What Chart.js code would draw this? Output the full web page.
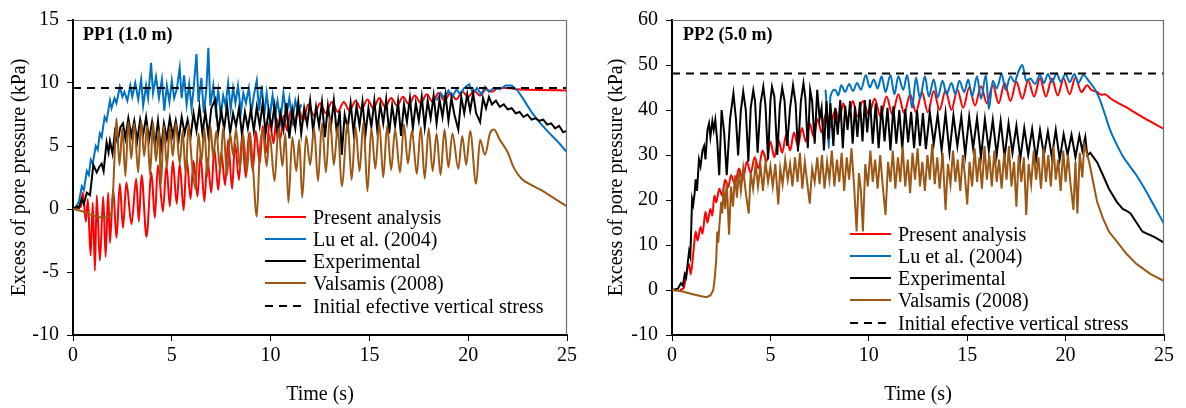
<!DOCTYPE html>
<html>
<head>
<meta charset="utf-8">
<script src="https://cdn.jsdelivr.net/npm/chart.js@4.4.1/dist/chart.umd.min.js"></script>
<style>
  body { margin: 0; background: #fff; }
  #wrap { position: relative; width: 1186px; height: 408px; font-family: 'Liberation Serif', 'Times New Roman', serif; color: #000; }
  canvas { position: absolute; top: 0; }
  .tag { position: absolute; font-weight: bold; font-size: 18px; line-height: 20px; white-space: nowrap; }
  .key { position: absolute; font-size: 20px; line-height: 24px; white-space: nowrap; }
  .sample { position: absolute; height: 2px; }
</style>
</head>
<body>
<div id="wrap">
  <canvas id="pp1" width="590" height="408" style="left:0"></canvas>
  <canvas id="pp2" width="596" height="408" style="left:590px"></canvas>
  <div class="tag" style="left:83px;top:24px">PP1 (1.0 m)</div>
  <div class="tag" style="left:683px;top:24px">PP2 (5.0 m)</div>
</div>
<script>
// legend entries (same order in both panels)
const seriesLabels = ['Present analysis', 'Lu et al. (2004)', 'Experimental', 'Valsamis (2008)', 'Initial efective vertical stress'];
const seriesColors = ['#ff0000', '#0070c0', '#000000', '#9c5714', '#000000'];

const timeTicks = [0, 5, 10, 15, 20, 25];
const pp1Ticks = [-10, -5, 0, 5, 10, 15];
const pp2Ticks = [-10, 0, 10, 20, 30, 40, 50, 60];

// ---- PP1 (1.0 m) : [time s, excess pore pressure kPa] ----
const pp1Present = [[0,0],[0.2,0.05],[0.4,0.2],[0.5,1.3],[0.65,-1.0],[0.75,0.8],[0.89,-3.7],[1.0,0.5],[1.11,-4.9],[1.2,1.1],[1.36,-4.1],[1.53,1.0],[1.65,-3.8],[1.78,1.3],[1.87,-2.7],[2.03,1.6],[2.2,-2.3],[2.37,2.0],[2.53,-1.5],[2.7,2.1],[2.96,-1.2],[3.2,2.4],[3.33,-1.0],[3.47,2.7],[3.72,-2.2],[3.97,2.9],[4.14,-0.7],[4.3,3.5],[4.55,-0.2],[4.73,3.5],[4.9,0.2],[5.05,3.8],[5.25,0.4],[5.4,3.6],[5.6,-0.1],[5.75,4.0],[5.95,0.8],[6.1,3.8],[6.3,1.0],[6.45,4.3],[6.65,0.6],[6.8,4.0],[7.0,1.3],[7.15,4.8],[7.35,1.5],[7.5,4.5],[7.7,1.9],[7.85,5.5],[8.05,1.6],[8.2,5.2],[8.4,2.3],[8.55,5.8],[8.75,2.5],[8.9,6.0],[9.1,3.0],[9.25,6.2],[9.45,3.6],[9.6,6.6],[9.8,4.5],[9.95,7.0],[10.15,5.2],[10.3,7.2],[10.5,5.6],[10.65,7.4],[10.85,6.2],[11.0,7.8],[11.2,6.6],[11.4,8.0],[11.65,7.0],[11.9,8.3],[12.2,7.4],[12.5,8.4],[12.8,7.6],[13.1,8.5],[13.4,7.7],[13.7,8.5],[14.0,7.8],[14.3,8.6],[14.6,7.9],[14.9,8.7],[15.2,8.0],[15.5,8.8],[15.8,8.1],[16.1,8.8],[16.4,8.2],[16.7,8.9],[17.0,8.3],[17.3,9.0],[17.6,8.4],[17.9,9.1],[18.2,8.5],[18.5,9.2],[18.8,8.6],[19.1,9.2],[19.4,8.7],[19.7,9.3],[20.0,8.9],[20.3,9.4],[20.6,9.0],[20.9,9.5],[21.2,9.3],[21.5,9.6],[22.0,9.6],[22.5,9.5],[23.5,9.45],[25,9.4]];

const pp1Lu = [[0.1,0],[0.3,0.6],[0.45,1.8],[0.55,1.5],[0.7,3.0],[0.8,2.7],[0.9,3.9],[1.0,3.6],[1.15,5.0],[1.25,4.7],[1.36,6.0],[1.45,5.7],[1.6,7.3],[1.7,7.0],[1.87,8.6],[1.95,8.0],[2.1,8.8],[2.2,8.4],[2.37,9.7],[2.5,8.9],[2.6,9.3],[2.75,8.6],[2.9,9.8],[3.0,8.9],[3.15,10.0],[3.3,8.7],[3.45,10.3],[3.55,8.2],[3.7,9.8],[3.8,8.8],[3.95,11.6],[4.05,9.2],[4.2,10.5],[4.35,8.8],[4.5,10.3],[4.62,7.8],[4.75,9.8],[4.88,8.5],[5.0,10.2],[5.12,8.8],[5.25,9.5],[5.4,11.2],[5.5,8.8],[5.62,10.6],[5.75,8.3],[5.88,9.9],[6.0,8.0],[6.1,9.5],[6.25,12.3],[6.35,8.5],[6.5,10.4],[6.62,7.6],[6.75,9.5],[6.85,12.8],[6.95,8.2],[7.1,9.8],[7.22,7.8],[7.35,9.4],[7.48,7.4],[7.6,9.0],[7.72,8.2],[7.85,10.0],[7.98,7.9],[8.1,9.6],[8.22,8.4],[8.35,9.8],[8.5,7.7],[8.62,9.2],[8.75,8.4],[8.9,9.6],[9.02,7.6],[9.15,9.0],[9.3,10.2],[9.42,7.8],[9.55,9.8],[9.68,7.4],[9.8,9.2],[9.95,7.2],[10.1,9.0],[10.22,7.3],[10.35,8.6],[10.5,7.0],[10.65,9.2],[10.8,7.4],[10.95,8.8],[11.1,7.0],[11.25,8.6],[11.4,7.6],[11.55,8.3],[11.7,null],[18.3,null],[18.4,8.6],[18.6,9.2],[18.8,8.8],[19.0,9.4],[19.2,8.9],[19.4,9.5],[19.6,9.1],[19.8,9.6],[20.05,9.9],[20.25,9.2],[20.45,9.6],[20.65,9.1],[20.85,9.7],[21.05,9.3],[21.3,9.6],[21.6,9.5],[21.9,9.8],[22.2,9.8],[22.5,9.4],[22.8,8.7],[23.2,7.7],[23.6,6.9],[24.0,6.2],[24.5,5.4],[25,4.5]];

const pp1Experimental = [[0,0],[0.19,0.2],[0.3,0.1],[0.44,0.8],[0.55,0.4],[0.7,1.3],[0.86,1.1],[1.03,3.5],[1.2,2.9],[1.35,3.4],[1.45,3.6],[1.55,3.0],[1.7,5.3],[1.8,4.5],[1.87,5.4],[2.0,4.4],[2.12,6.1],[2.25,5.3],[2.4,6.5],[2.53,6.8],[2.65,5.6],[2.8,7.2],[2.95,5.8],[3.1,7.0],[3.25,5.4],[3.4,7.1],[3.55,5.9],[3.7,7.3],[3.85,5.5],[4.0,6.9],[4.15,5.0],[4.3,7.0],[4.45,4.7],[4.6,6.8],[4.75,5.6],[4.9,7.2],[5.05,5.8],[5.2,7.0],[5.35,5.5],[5.5,7.3],[5.65,6.0],[5.8,7.1],[5.95,5.7],[6.1,7.6],[6.25,6.2],[6.4,8.1],[6.55,6.0],[6.7,7.7],[6.85,5.8],[7.0,8.0],[7.2,8.7],[7.35,6.1],[7.5,7.8],[7.65,6.4],[7.8,8.2],[7.95,6.0],[8.1,7.6],[8.25,6.6],[8.4,8.0],[8.55,5.9],[8.7,7.7],[8.85,6.4],[9.0,7.9],[9.15,6.2],[9.3,8.1],[9.45,6.6],[9.6,8.4],[9.75,6.0],[9.9,7.8],[10.05,6.5],[10.2,8.2],[10.35,5.8],[10.5,7.6],[10.65,6.3],[10.8,8.4],[10.95,5.6],[11.1,7.9],[11.25,6.4],[11.4,8.5],[11.55,6.0],[11.7,8.0],[11.85,6.7],[12.0,8.6],[12.15,6.2],[12.3,8.1],[12.45,6.6],[12.6,8.5],[12.75,5.7],[12.9,8.2],[13.05,6.5],[13.2,8.6],[13.35,6.0],[13.5,7.8],[13.6,4.3],[13.75,7.5],[13.9,6.4],[14.05,8.4],[14.2,6.1],[14.35,8.2],[14.5,6.6],[14.65,8.5],[14.8,5.9],[14.95,8.0],[15.1,6.5],[15.25,8.6],[15.4,6.2],[15.55,8.3],[15.7,6.8],[15.85,8.7],[16.0,6.0],[16.15,8.2],[16.3,6.6],[16.45,8.5],[16.6,5.8],[16.75,8.3],[16.9,6.9],[17.05,8.8],[17.2,6.4],[17.35,8.4],[17.5,7.0],[17.65,8.9],[17.8,6.5],[17.95,8.6],[18.1,7.2],[18.25,9.0],[18.4,6.8],[18.55,8.7],[18.7,7.3],[18.85,9.1],[19.0,7.0],[19.15,8.8],[19.3,7.5],[19.5,6.3],[19.65,8.9],[19.8,7.6],[19.95,9.1],[20.1,7.8],[20.25,9.2],[20.4,7.6],[20.6,6.9],[20.75,8.8],[20.9,8.0],[21.05,8.9],[21.2,8.3],[21.4,8.6],[21.6,8.1],[21.8,8.3],[22.0,7.9],[22.2,8.0],[22.4,7.6],[22.6,7.7],[22.8,7.3],[23.0,7.5],[23.2,7.1],[23.4,7.2],[23.6,7.0],[23.8,7.1],[24.0,6.7],[24.2,6.8],[24.4,6.4],[24.6,6.6],[24.8,6.1],[25,6.2]];

const pp1Valsamis = [[0,0],[0.5,-0.2],[1.0,-0.5],[1.5,-0.7],[1.9,-0.5],[2.0,0.5],[2.1,4.0],[2.2,7.2],[2.35,3.5],[2.5,6.4],[2.65,2.6],[2.8,6.9],[2.95,4.0],[3.1,6.8],[3.3,2.9],[3.45,7.0],[3.6,4.2],[3.75,6.6],[3.9,2.7],[4.05,6.9],[4.2,3.8],[4.35,6.3],[4.45,1.9],[4.6,6.6],[4.75,3.3],[4.9,6.5],[5.05,4.2],[5.2,6.8],[5.4,3.6],[5.55,6.2],[5.7,2.8],[5.85,6.7],[6.0,4.0],[6.2,1.6],[6.35,6.0],[6.5,3.8],[6.65,6.4],[6.8,2.6],[6.95,6.6],[7.1,4.1],[7.25,6.2],[7.45,3.0],[7.6,6.5],[7.8,2.7],[7.95,6.0],[8.1,4.3],[8.25,6.3],[8.45,3.2],[8.6,6.0],[8.8,2.9],[8.95,6.1],[9.1,3.5],[9.3,-0.6],[9.45,4.5],[9.6,6.3],[9.8,3.4],[9.95,5.9],[10.2,2.2],[10.4,6.4],[10.6,3.4],[10.75,6.0],[10.9,0.5],[11.1,5.7],[11.3,3.0],[11.45,5.5],[11.6,0.9],[11.8,5.8],[12.0,3.5],[12.2,6.4],[12.4,2.2],[12.6,6.8],[12.8,2.9],[13.0,7.3],[13.2,3.5],[13.4,6.5],[13.6,1.8],[13.9,6.8],[14.1,2.3],[14.3,6.5],[14.5,3.0],[14.7,6.9],[14.9,1.4],[15.1,6.4],[15.3,3.2],[15.5,6.8],[15.7,2.5],[15.9,6.6],[16.1,3.1],[16.3,6.3],[16.55,2.9],[16.75,6.7],[16.95,3.6],[17.15,6.2],[17.4,2.8],[17.6,6.5],[17.8,2.4],[18.0,6.4],[18.2,3.0],[18.4,6.0],[18.6,2.7],[18.8,6.3],[19.0,3.3],[19.2,6.0],[19.5,3.2],[19.7,5.8],[19.9,3.5],[20.1,6.2],[20.4,2.0],[20.6,5.5],[20.85,4.3],[21.1,6.0],[21.3,6.3],[21.6,5.5],[22.0,4.5],[22.3,3.3],[22.7,2.4],[23.2,1.9],[23.7,1.5],[24.3,0.9],[25,0.2]];

const pp1Stress = [[0,9.6],[25,9.6]];

// ---- PP2 (5.0 m) ----
const pp2Present = [[0.4,0],[0.6,0.5],[0.75,4.0],[0.87,5.8],[0.95,3.5],[1.1,9.0],[1.2,13.0],[1.3,11.0],[1.45,14.0],[1.55,12.5],[1.7,17.4],[1.8,15.0],[1.95,18.0],[2.05,16.5],[2.15,21.0],[2.25,19.5],[2.4,22.5],[2.55,21.0],[2.7,24.5],[2.85,22.8],[3.0,25.5],[3.2,23.5],[3.4,27.0],[3.6,24.5],[3.8,28.5],[4.0,26.0],[4.2,29.5],[4.4,27.0],[4.6,31.0],[4.8,28.5],[5.0,33.0],[5.2,29.5],[5.4,33.5],[5.6,30.5],[5.8,34.5],[6.0,31.0],[6.2,35.0],[6.4,32.0],[6.6,36.0],[6.8,33.0],[7.0,37.0],[7.2,34.0],[7.4,38.0],[7.6,35.0],[7.8,39.0],[8.0,36.0],[8.3,40.0],[8.5,37.5],[8.7,41.5],[8.9,38.0],[9.2,42.0],[9.4,38.5],[9.7,42.0],[10.0,39.0],[10.3,42.5],[10.6,38.5],[10.9,43.0],[11.2,39.0],[11.5,43.5],[11.8,39.3],[12.1,43.5],[12.4,39.5],[12.7,44.0],[13.0,39.5],[13.3,44.2],[13.6,40.0],[13.9,44.4],[14.2,40.0],[14.5,44.5],[14.8,40.5],[15.1,45.0],[15.4,41.0],[15.7,45.3],[16.0,41.5],[16.3,45.5],[16.6,41.5],[16.9,46.0],[17.2,42.0],[17.5,46.3],[17.8,42.5],[18.1,46.6],[18.4,43.0],[18.7,47.0],[19.0,43.0],[19.3,47.0],[19.6,43.2],[19.9,47.0],[20.2,43.5],[20.5,47.2],[20.8,44.0],[21.1,45.5],[21.3,44.5],[21.6,44.0],[21.8,43.4],[22.0,43.5],[22.3,42.5],[23.0,40.8],[24.0,38.2],[25,35.8]];

const pp2Lu = [[7.8,44.5],[7.9,38.0],[7.97,31.5],[8.05,43.0],[8.3,44.5],[8.45,43.2],[8.6,45.5],[8.8,44.0],[9.0,45.8],[9.2,44.2],[9.4,46.0],[9.6,44.5],[9.85,47.8],[10.05,45.0],[10.25,46.8],[10.45,44.8],[10.65,47.5],[10.85,44.0],[11.1,47.8],[11.3,43.5],[11.5,47.5],[11.75,44.5],[11.95,47.8],[12.2,40.5],[12.4,47.2],[12.6,42.5],[12.85,47.5],[13.05,43.0],[13.3,46.8],[13.5,42.8],[13.75,46.5],[13.95,43.5],[14.2,46.0],[14.4,43.5],[14.6,46.5],[14.85,44.0],[15.05,46.8],[15.25,43.0],[15.5,47.5],[15.7,42.5],[15.95,47.8],[16.1,40.2],[16.3,46.5],[16.5,44.8],[16.75,48.0],[16.95,44.5],[17.2,47.5],[17.4,46.2],[17.6,48.5],[17.8,50.0],[18.0,46.5],[18.2,47.0],[18.45,45.8],[18.7,47.8],[18.9,46.0],[19.1,48.0],[19.3,46.2],[19.55,48.1],[19.75,46.3],[20.0,48.0],[20.2,46.2],[20.45,48.0],[20.65,46.0],[20.9,47.8],[21.2,46.3],[21.5,44.5],[21.75,42.2],[22.0,39.0],[22.26,35.6],[22.6,32.3],[22.9,29.8],[23.25,27.6],[23.6,25.5],[23.95,23.0],[24.3,20.3],[24.65,17.5],[25,14.7]];

const pp2Experimental = [[0,0],[0.3,0.3],[0.45,1.5],[0.55,1.0],[0.65,3.5],[0.72,2.8],[0.8,6.0],[0.87,8.6],[0.93,7.5],[0.98,14.0],[1.02,20.2],[1.08,19.0],[1.15,21.5],[1.2,24.6],[1.27,22.0],[1.37,29.0],[1.45,27.5],[1.55,31.0],[1.63,32.0],[1.7,29.0],[1.8,35.5],[1.88,37.0],[1.95,34.0],[2.05,37.5],[2.12,35.6],[2.2,37.8],[2.3,33.0],[2.4,25.5],[2.52,40.0],[2.65,35.0],[2.78,25.5],[2.95,38.0],[3.12,43.7],[3.25,38.0],[3.36,29.9],[3.5,40.0],[3.62,44.1],[3.75,40.0],[3.88,28.5],[4.0,40.5],[4.13,44.4],[4.22,42.0],[4.35,30.5],[4.5,41.5],[4.64,45.2],[4.75,41.0],[4.88,29.0],[5.0,42.0],[5.08,45.2],[5.2,43.0],[5.35,30.0],[5.48,41.0],[5.6,45.0],[5.72,42.0],[5.85,32.0],[6.0,40.5],[6.15,45.5],[6.28,41.5],[6.4,30.8],[6.55,42.0],[6.68,46.0],[6.78,42.5],[6.9,31.5],[7.02,44.5],[7.12,42.0],[7.25,32.5],[7.38,44.5],[7.5,38.0],[7.6,40.5],[7.72,31.0],[7.85,42.0],[7.95,33.5],[8.05,41.5],[8.2,32.0],[8.3,40.5],[8.42,34.5],[8.55,42.2],[8.68,31.5],[8.8,41.0],[8.92,35.6],[9.05,42.0],[9.18,32.5],[9.3,40.8],[9.42,34.0],[9.55,41.8],[9.68,33.0],[9.8,42.2],[9.92,35.0],[10.06,42.3],[10.2,32.5],[10.35,41.5],[10.5,31.5],[10.65,41.0],[10.8,33.0],[10.95,40.5],[11.1,31.0],[11.25,40.8],[11.4,32.5],[11.55,40.0],[11.7,31.3],[11.85,40.2],[12.0,32.8],[12.15,39.6],[12.3,31.5],[12.45,40.0],[12.6,32.0],[12.75,39.3],[12.9,31.3],[13.1,39.5],[13.3,32.5],[13.5,39.0],[13.7,31.0],[13.9,39.3],[14.1,30.5],[14.3,38.8],[14.5,32.0],[14.7,38.6],[14.9,30.0],[15.1,38.5],[15.3,31.5],[15.5,38.2],[15.7,29.5],[15.9,38.0],[16.1,31.0],[16.3,37.8],[16.5,30.0],[16.7,37.5],[16.9,29.5],[17.1,37.0],[17.3,30.5],[17.5,36.5],[17.7,29.2],[17.9,36.0],[18.1,30.0],[18.3,35.8],[18.5,29.0],[18.7,35.5],[18.9,30.0],[19.1,35.2],[19.3,29.5],[19.5,35.6],[19.7,29.0],[19.9,34.6],[20.1,30.0],[20.3,34.5],[20.5,29.5],[20.7,34.3],[20.85,31.0],[21.0,34.0],[21.1,29.9],[21.25,30.5],[21.4,29.6],[21.6,28.4],[21.9,25.5],[22.2,22.5],[22.6,19.6],[22.9,18.0],[23.1,17.6],[23.3,17.0],[23.6,15.0],[23.9,13.0],[24.1,12.6],[24.5,11.8],[25,10.5]];

const pp2Valsamis = [[0,0],[0.5,-0.3],[1.0,-0.9],[1.5,-1.4],[1.75,-1.6],[1.95,-1.2],[2.1,0.0],[2.18,3.0],[2.25,7.0],[2.3,13.0],[2.35,10.5],[2.42,15.0],[2.5,19.6],[2.55,17.0],[2.62,22.5],[2.7,18.0],[2.78,24.0],[2.9,12.3],[3.0,23.0],[3.1,18.5],[3.2,25.5],[3.3,20.5],[3.4,26.5],[3.5,22.0],[3.62,27.0],[3.75,21.5],[3.9,17.0],[4.0,26.0],[4.12,22.5],[4.25,28.0],[4.37,23.0],[4.5,27.5],[4.62,22.0],[4.75,28.5],[4.88,24.0],[5.0,27.5],[5.12,23.0],[5.25,28.0],[5.4,19.0],[5.5,27.0],[5.62,23.5],[5.75,29.0],[5.88,24.5],[6.0,28.0],[6.12,23.0],[6.25,29.5],[6.38,24.0],[6.5,30.5],[6.62,22.5],[6.75,28.5],[6.88,23.5],[7.0,19.2],[7.12,27.0],[7.25,24.0],[7.38,29.5],[7.5,23.5],[7.62,30.0],[7.75,22.5],[7.88,28.5],[8.0,24.5],[8.12,31.0],[8.25,23.0],[8.38,29.0],[8.5,24.0],[8.62,30.5],[8.75,22.0],[8.88,29.5],[9.0,24.5],[9.12,31.5],[9.25,23.5],[9.38,13.0],[9.5,26.0],[9.6,22.0],[9.7,13.0],[9.82,28.0],[9.95,23.0],[10.08,31.0],[10.2,24.0],[10.32,29.0],[10.45,22.5],[10.58,30.0],[10.7,23.5],[10.85,16.7],[10.98,28.5],[11.1,24.0],[11.22,31.0],[11.35,22.5],[11.48,29.5],[11.6,24.0],[11.72,32.0],[11.85,23.0],[11.98,29.0],[12.1,21.5],[12.22,30.5],[12.35,24.5],[12.48,31.5],[12.6,23.0],[12.72,28.5],[12.85,22.0],[12.98,30.0],[13.1,24.5],[13.22,32.5],[13.35,23.5],[13.48,29.5],[13.6,22.5],[13.75,30.5],[13.9,17.8],[14.02,28.0],[14.15,23.5],[14.28,31.0],[14.4,24.0],[14.52,29.0],[14.65,22.0],[14.78,30.0],[14.9,24.5],[15.0,19.0],[15.12,28.5],[15.25,23.0],[15.38,31.5],[15.5,24.0],[15.62,29.5],[15.75,22.5],[15.88,32.0],[16.0,24.5],[16.12,30.0],[16.25,23.0],[16.38,31.0],[16.5,24.0],[16.62,29.0],[16.75,22.5],[16.88,30.5],[17.0,24.5],[17.12,32.0],[17.25,23.0],[17.38,28.5],[17.5,18.5],[17.62,30.0],[17.75,24.0],[17.88,29.5],[18.0,16.7],[18.12,28.0],[18.25,23.5],[18.38,31.0],[18.5,24.5],[18.62,29.5],[18.75,22.5],[18.88,31.5],[19.0,24.0],[19.12,30.0],[19.25,23.0],[19.38,32.0],[19.5,24.5],[19.62,29.0],[19.75,22.0],[19.88,31.0],[20.0,24.0],[20.12,30.0],[20.25,23.5],[20.4,17.8],[20.5,28.5],[20.6,17.0],[20.72,30.5],[20.85,25.0],[20.95,32.3],[21.1,30.0],[21.2,28.4],[21.4,24.0],[21.6,19.6],[21.9,15.9],[22.2,13.0],[22.6,10.8],[23.1,8.0],[23.6,5.8],[24.3,3.6],[25,2.0]];

const pp2Stress = [[0,48.1],[25,48.1]];

const serif = "'Liberation Serif', 'Times New Roman', serif";

function points(list) {
    return list.map(p => ({ x: p[0], y: p[1] }));
}

// grey frame on top and right of the plot area, like the spreadsheet original
const plotFrame = {
    id: 'plotFrame',
    afterDraw(chart) {
        const { ctx, chartArea: a } = chart;
        ctx.save();
        ctx.strokeStyle = '#6e6e6e';
        ctx.lineWidth = 1.2;
        ctx.beginPath();
        ctx.moveTo(a.left, a.top + 0.5);
        ctx.lineTo(a.right - 0.5, a.top + 0.5);
        ctx.lineTo(a.right - 0.5, a.bottom);
        ctx.stroke();
        ctx.restore();
    }
};

function makePanel(id, sets, yTicks, yWidth, rightPad, titleGap) {
    const datasets = sets.map((s, i) => ({
        label: seriesLabels[i],
        data: points(s),
        borderColor: seriesColors[i],
        borderWidth: 2,
        borderDash: i === 4 ? [8, 6] : [],
        pointRadius: 0,
        fill: false,
        tension: 0,
        cubicInterpolationMode: (i === 0 || (i === 1 && id === 'pp2') || (i === 3 && id === 'pp1')) ? 'monotone' : 'default',
        // lower order is painted later (on top)
        order: [4, 3, 2, 1, 0][i]
    }));

    const tickFont = { family: serif, size: 20 };

    return new Chart(document.getElementById(id), {
        type: 'line',
        data: { datasets: datasets },
        plugins: [plotFrame],
        options: {
            responsive: false,
            animation: false,
            layout: { padding: { left: 0, right: rightPad, top: 16, bottom: 0 } },
            plugins: { legend: { display: false }, tooltip: { enabled: false } },
            scales: {
                x: {
                    type: 'linear',
                    min: timeTicks[0],
                    max: timeTicks[timeTicks.length - 1],
                    afterBuildTicks: scale => { scale.ticks = timeTicks.map(v => ({ value: v })); },
                    ticks: { color: '#000', font: tickFont, padding: 3 },
                    grid: { drawOnChartArea: false, drawTicks: true, tickLength: 6, color: '#000', lineWidth: 1 },
                    border: { color: '#000', width: 2 },
                    title: { display: true, text: 'Time (s)', color: '#000', font: tickFont, padding: { top: 0, bottom: 1 } },
                    afterFit: scale => { scale.height = 73; }
                },
                y: {
                    type: 'linear',
                    min: yTicks[0],
                    max: yTicks[yTicks.length - 1],
                    afterBuildTicks: scale => { scale.ticks = yTicks.map(v => ({ value: v })); },
                    ticks: { color: '#000', font: tickFont, padding: 8 },
                    grid: { drawOnChartArea: false, drawTicks: true, tickLength: 6, color: '#000', lineWidth: 1 },
                    border: { color: '#000', width: 2 },
                    title: { display: true, text: 'Excess of pore pressure (kPa)', color: '#000', font: tickFont, padding: { top: titleGap, bottom: 0 } },
                    afterFit: scale => { scale.width = yWidth; }
                }
            }
        }
    });
}

function addLegend(left, firstRow) {
    const wrap = document.getElementById('wrap');
    seriesLabels.forEach((label, i) => {
        const cy = firstRow + i * 22.3;
        const line = document.createElement('div');
        line.className = 'sample';
        line.style.left = left + 'px';
        line.style.top = (cy - 1) + 'px';
        if (i === 4) {
            line.style.width = '36px';
            line.style.background = 'repeating-linear-gradient(90deg, #000 0 8px, transparent 8px 14px)';
        } else {
            line.style.width = '41px';
            line.style.background = seriesColors[i];
        }
        wrap.appendChild(line);

        const txt = document.createElement('div');
        txt.className = 'key';
        txt.style.left = (left + 48) + 'px';
        txt.style.top = (cy - 12) + 'px';
        txt.textContent = label;
        wrap.appendChild(txt);
    });
}

makePanel('pp1', [pp1Present, pp1Lu, pp1Experimental, pp1Valsamis, pp1Stress], pp1Ticks, 73, 23, 8);
makePanel('pp2', [pp2Present, pp2Lu, pp2Experimental, pp2Valsamis, pp2Stress], pp2Ticks, 82, 22, 15);
addLegend(265, 216.5);
addLegend(850, 233.5);
</script>
</body>
</html>
